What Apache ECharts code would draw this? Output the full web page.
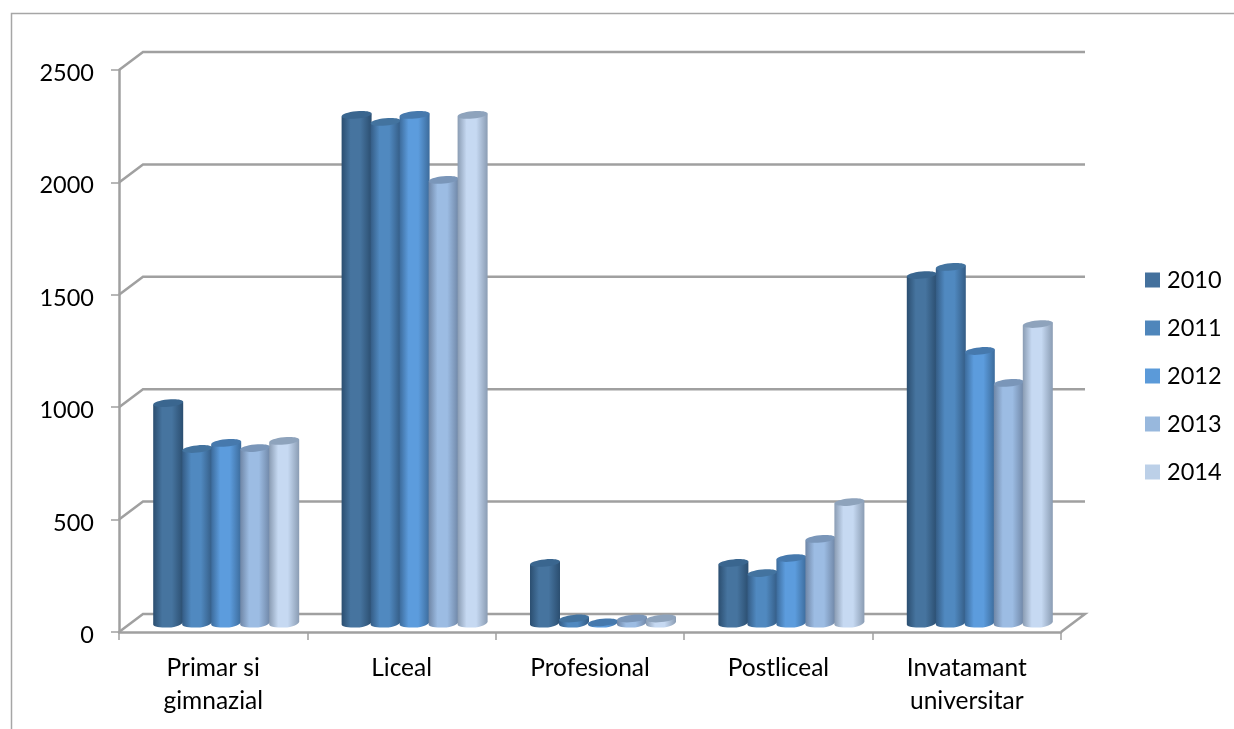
<!DOCTYPE html>
<html>
<head>
<meta charset="utf-8">
<style>html,body{margin:0;padding:0;background:#fff}#c{width:1234px;height:729px}</style>
<script src="https://cdn.jsdelivr.net/npm/echarts@6/dist/echarts.min.js"></script>
</head>
<body>
<div id="c"></div>
<script>
const categories = ['Primar si\ngimnazial', 'Liceal', 'Profesional', 'Postliceal', 'Invatamant\nuniversitar'];
const years = ['2010', '2011', '2012', '2013', '2014'];
const values2010 = [978, 2260, 267, 267, 1548];
const values2011 = [774, 2229, 20, 222, 1584];
const values2012 = [801, 2260, 3, 289, 1210];
const values2013 = [778, 1971, 20, 374, 1068];
const values2014 = [810, 2260, 20, 538, 1330];
const yTicks = [0, 500, 1000, 1500, 2000, 2500];

const allValues = [values2010, values2011, values2012, values2013, values2014];
const legendColors = ['#44719d', '#4f86bb', '#5b9ad9', '#98b8dd', '#bcd0e8'];
const mainColors = ['#46749f', '#5089c0', '#5c9cdd', '#9cbce3', '#c6d9f2'];
const edgeColors = ['#2b4e70', '#345c85', '#3c6b9b', '#6f86a6', '#8a9cb3'];
const topColors = ['#3a668f', '#43739f', '#4679ad', '#7a96b9', '#8ea3bc'];
const FONT = 'Lato';
const GREY = '#a0a0a0';
const DX = 24, DY = -18;          // depth of the floor / walls
const BAR_W = 30, BAR_STEP = 29;  // cylinder width and pitch
const BAR_SHIFT_X = 13, BAR_SHIFT_Y = -9, RY = 3.6;

function cylinder(si) {
  return function (params, api) {
    const p = api.coord([api.value(0), api.value(1)]);
    const base = api.coord([api.value(0), 0]);
    const cx = p[0] + BAR_SHIFT_X + (si - 2) * BAR_STEP;
    const yTop = p[1] + BAR_SHIFT_Y, yBase = base[1] + BAR_SHIFT_Y;
    const rx = BAR_W / 2;
    const grad = new echarts.graphic.LinearGradient(0, 0, 1, 0, [
      { offset: 0, color: edgeColors[si] },
      { offset: 0.3, color: mainColors[si] },
      { offset: 0.62, color: mainColors[si] },
      { offset: 1, color: edgeColors[si] }
    ]);
    const k = 0.55 * 4.6, kx = 0.55 * rx;
    const tilt = 1.5, rb = 4.6;
    const path = 'M' + (cx - rx) + ' ' + (yTop + tilt) +
      'L' + (cx - rx) + ' ' + (yBase + tilt) +
      'C' + (cx - rx) + ' ' + (yBase + tilt + k) + ' ' + (cx - kx) + ' ' + (yBase + rb) + ' ' + cx + ' ' + (yBase + rb) +
      'C' + (cx + kx) + ' ' + (yBase + rb) + ' ' + (cx + rx) + ' ' + (yBase - tilt + k) + ' ' + (cx + rx) + ' ' + (yBase - tilt) +
      'L' + (cx + rx) + ' ' + (yTop - tilt) +
      'Z';
    return {
      type: 'group',
      children: [
        { type: 'path', shape: { pathData: path, layout: 'none' }, style: { fill: grad } },
        {
          type: 'ellipse',
          shape: { cx: cx, cy: yTop, rx: rx, ry: RY },
          rotation: 0.1, originX: cx, originY: yTop,
          style: { fill: topColors[si] }
        }
      ]
    };
  };
}

function walls(params, api) {
  const v = api.value(1);
  const band = api.size([1, 0])[0];
  const front = api.coord([0, v]);
  const xL = front[0] - band / 2;
  const xR = xL + band * categories.length;
  const y = front[1];
  const pts = [[xL, y], [xL + DX, y + DY], [xR + DX, y + DY]];
  if (v === 0) pts.push([xR, y]);
  return {
    type: 'polyline',
    shape: { points: pts },
    style: { stroke: GREY, lineWidth: 2.5, fill: null }
  };
}

const series = [{
  type: 'custom',
  name: 'walls',
  silent: true,
  clip: false,
  z: 1,
  renderItem: walls,
  data: yTicks.map(v => [0, v])
}];
years.forEach((y, si) => {
  series.push({
    type: 'custom',
    name: y,
    clip: false,
    z: 3 + si,
    itemStyle: { color: legendColors[si] },
    renderItem: cylinder(si),
    encode: { x: 0, y: 1 },
    data: allValues[si].map((v, i) => [i, v])
  });
});

const chart = echarts.init(document.getElementById('c'));
chart.setOption({
  animation: false,
  backgroundColor: '#fff',
  grid: { left: 119, right: 173, top: 70, bottom: 97 },
  xAxis: {
    type: 'category',
    data: categories.map((c, i) => i),
    boundaryGap: true,
    axisLine: { lineStyle: { color: GREY, width: 2.5 } },
    axisTick: { show: true, length: 8, lineStyle: { color: GREY, width: 1.5 } },
    axisLabel: {
      formatter: (v) => categories[+v],
      interval: 0, margin: 20, fontFamily: FONT, fontSize: 24.5, color: '#000', lineHeight: 33
    }
  },
  yAxis: {
    type: 'value', min: 0, max: 2500, interval: 500,
    splitLine: { show: false },
    axisLine: { show: true, lineStyle: { color: GREY, width: 2.5 } },
    axisTick: { show: true, length: 8, lineStyle: { color: GREY, width: 1.5 } },
    axisLabel: { margin: 25, fontFamily: FONT, fontSize: 23.5, color: '#000', verticalAlign: 'top', lineHeight: 7, formatter: (v) => String(v) }
  },
  legend: {
    data: years,
    orient: 'vertical',
    left: 1145, top: 265, padding: 0,
    icon: 'rect',
    itemWidth: 15, itemHeight: 15, itemGap: 18,
    textStyle: { fontFamily: FONT, fontSize: 23.5, color: '#000', padding: [2, 0, 0, 2], lineHeight: 28, height: 28 }
  },
  graphic: [
    { type: 'polyline', silent: true, shape: { points: [[11.5, 729], [11.5, 13.5], [1234, 13.5]] }, style: { stroke: '#a6a6a6', lineWidth: 1.5, fill: null } }
  ],
  series: series
});
</script>
</body>
</html>
